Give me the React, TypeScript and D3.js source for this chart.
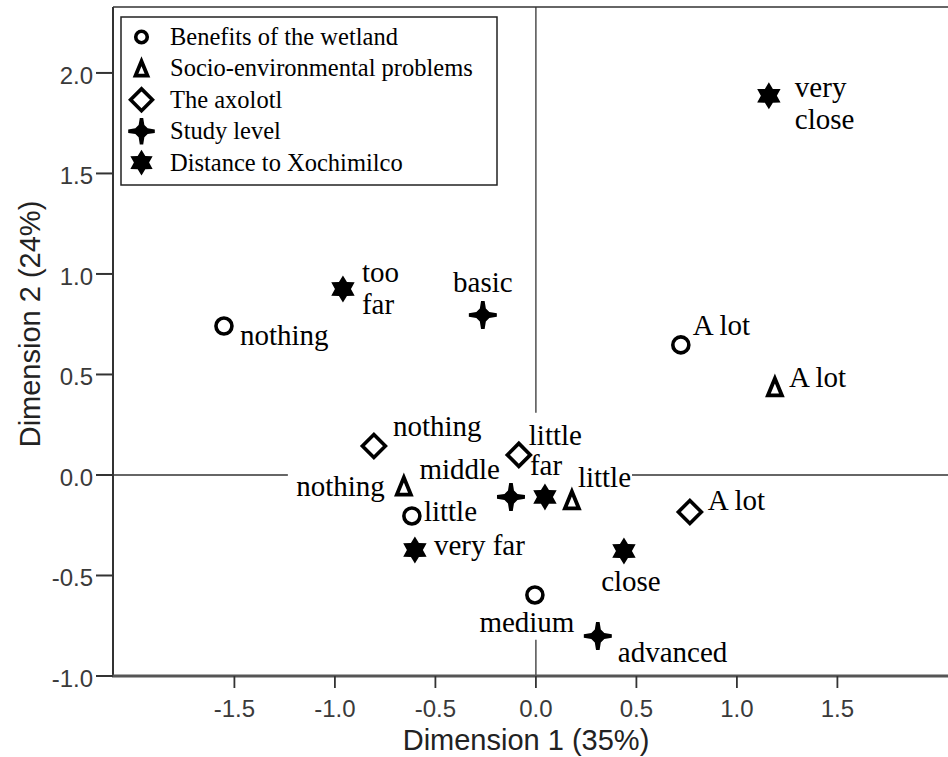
import React from "react";
import * as d3 from "d3";

const W = 948;
const H = 757;

const xTicks = [-1.5, -1.0, -0.5, 0.0, 0.5, 1.0, 1.5];
const yTicks = [-1.0, -0.5, 0.0, 0.5, 1.0, 1.5, 2.0];
const xDomain = [-2.104, 2.2];
const yDomain = [-1.0, 2.328];

const seriesNames = [
  "Benefits of the wetland",
  "Socio-environmental problems",
  "The axolotl",
  "Study level",
  "Distance to Xochimilco",
];

const benefitsLabels = ["nothing", "A lot", "little", "medium"];
const benefitsX = [-1.552, 0.721, -0.617, -0.005];
const benefitsY = [0.741, 0.647, -0.204, -0.597];

const problemsLabels = ["nothing", "little", "A lot"];
const problemsX = [-0.657, 0.179, 1.189];
const problemsY = [-0.055, -0.124, 0.438];

const axolotlLabels = ["nothing", "little", "A lot"];
const axolotlX = [-0.806, -0.085, 0.766];
const axolotlY = [0.144, 0.1, -0.184];

const studyLabels = ["basic", "middle", "advanced"];
const studyX = [-0.264, -0.124, 0.308];
const studyY = [0.796, -0.109, -0.801];

const distanceLabels = ["too far", "very far", "far", "close", "very close"];
const distanceX = [-0.96, -0.602, 0.045, 0.438, 1.159];
const distanceY = [0.925, -0.373, -0.109, -0.378, 1.886];

// reference-line segments (data units), interrupted where labels sit
const hRefSegments = [
  [-2.104, -1.234],
  [0.478, 2.2],
];
const vRefSegments = [
  [2.328, 0.31],
  [-0.82, -1.0],
];

// label placement (pixel offsets from marker)
type Lay = { dx: number; dy: number; anchor: string; lines?: string[] };
const labelLayout: Record<string, Lay> = {
  "0:nothing": { dx: 16, dy: 19, anchor: "start" },
  "0:A lot": { dx: 12, dy: -10, anchor: "start" },
  "0:little": { dx: 12, dy: 5, anchor: "start" },
  "0:medium": { dx: -8, dy: 37, anchor: "middle" },
  "1:nothing": { dx: -19, dy: 10, anchor: "end" },
  "1:little": { dx: 6, dy: -13, anchor: "start" },
  "1:A lot": { dx: 14, dy: 0, anchor: "start" },
  "2:nothing": { dx: 19, dy: -10, anchor: "start" },
  "2:little": { dx: 10, dy: -10, anchor: "start" },
  "2:A lot": { dx: 18, dy: -2, anchor: "start" },
  "3:basic": { dx: 0, dy: -23, anchor: "middle" },
  "3:middle": { dx: -11, dy: -18, anchor: "end" },
  "3:advanced": { dx: 20, dy: 26, anchor: "start" },
  "4:too far": { dx: 19, dy: -7, anchor: "start", lines: ["too", "far"] },
  "4:very far": { dx: 19, dy: 5, anchor: "start" },
  "4:far": { dx: -15, dy: -22, anchor: "start" },
  "4:close": { dx: 7, dy: 40, anchor: "middle" },
  "4:very close": { dx: 26, dy: 1, anchor: "start", lines: ["very", "close"] },
};

const fmt = (v: number) => d3.format(".1f")(v).replace("\u2212", "-");

function starPath(R: number, r: number) {
  const pts: string[] = [];
  for (let i = 0; i < 12; i++) {
    const a = (Math.PI / 6) * i - Math.PI / 2;
    const rad = i % 2 === 0 ? R : r;
    pts.push(`${(Math.cos(a) * rad).toFixed(2)},${(Math.sin(a) * rad).toFixed(2)}`);
  }
  return "M" + pts.join("L") + "Z";
}

function sparklePath(s: number) {
  const a = 14 * s;
  const w = 1.8 * s;
  const b = 3 * s;
  const c = 6.5 * s;
  const pts = [
    [-w, -a], [w, -a], [b, -c], [c, -b], [a, -w], [a, w], [c, b], [b, c],
    [w, a], [-w, a], [-b, c], [-c, b], [-a, w], [-a, -w], [-c, -b], [-b, -c],
  ];
  return "M" + pts.map((p) => p[0].toFixed(2) + "," + p[1].toFixed(2)).join("L") + "Z";
}

function Marker({ kind, scale = 1 }: { kind: number; scale?: number }) {
  const ink = "#000";
  if (kind === 0) {
    return <circle r={8 * scale} fill="#fff" stroke={ink} strokeWidth={3.6} />;
  }
  if (kind === 1) {
    const h = 8.5 * scale;
    const w = 7 * scale;
    return (
      <path
        d={`M0,${-h}L${w},${h}L${-w},${h}Z`}
        fill="#fff"
        stroke={ink}
        strokeWidth={3.8}
        strokeLinejoin="miter"
      />
    );
  }
  if (kind === 2) {
    const s = 11.5 * scale;
    return (
      <path d={`M0,${-s}L${s},0L0,${s}L${-s},0Z`} fill="#fff" stroke={ink} strokeWidth={3.6} />
    );
  }
  if (kind === 3) {
    return (
      <g fill={ink}>
        <path d={sparklePath(scale)} />
        <circle r={5 * scale} />
      </g>
    );
  }
  return <path d={starPath(13.5 * scale, 8 * scale)} fill={ink} />;
}

export default function App() {
  const x = d3.scaleLinear().domain(xDomain).range([113, 113 + 4.304 * 201]);
  const y = d3.scaleLinear().domain(yDomain).range([676, 7]);

  const series = [
    { labels: benefitsLabels, xs: benefitsX, ys: benefitsY },
    { labels: problemsLabels, xs: problemsX, ys: problemsY },
    { labels: axolotlLabels, xs: axolotlX, ys: axolotlY },
    { labels: studyLabels, xs: studyX, ys: studyY },
    { labels: distanceLabels, xs: distanceX, ys: distanceY },
  ];

  const serif = "'Liberation Serif', 'Times New Roman', serif";
  const sans = "'Liberation Sans', Arial, sans-serif";
  const left = x(xDomain[0]);
  const right = x(xDomain[1]);
  const top = y(yDomain[1]);
  const bottom = y(yDomain[0]);

  return (
    <svg
      width={W}
      height={H}
      style={{ position: "absolute", left: 0, top: 0, background: "#fff" }}
    >
      <rect x={0} y={0} width={W} height={H} fill="#fff" />
      {/* reference lines */}
      {hRefSegments.map((s, i) => (
        <line key={"h" + i} x1={x(s[0])} x2={x(s[1])} y1={y(0)} y2={y(0)} stroke="#333" strokeWidth={1.3} />
      ))}
      {vRefSegments.map((s, i) => (
        <line key={"v" + i} x1={x(0)} x2={x(0)} y1={y(s[0])} y2={y(s[1])} stroke="#333" strokeWidth={1.3} />
      ))}
      {/* frame */}
      <line x1={left} x2={right} y1={top} y2={top} stroke="#333" strokeWidth={1.5} />
      <line x1={left} x2={left} y1={top} y2={bottom} stroke="#333" strokeWidth={2} />
      <line x1={left - 1} x2={right} y1={bottom} y2={bottom} stroke="#555" strokeWidth={3} />
      {/* y ticks */}
      {yTicks.map((t) => (
        <g key={"yt" + t}>
          <line x1={left - 17} x2={left} y1={y(t)} y2={y(t)} stroke="#333" strokeWidth={2} />
          <text x={93} y={y(t) + 11} textAnchor="end" fontFamily={sans} fontSize={24} fill="#3a3a3a">
            {fmt(t)}
          </text>
        </g>
      ))}
      {/* x ticks */}
      {xTicks.map((t) => (
        <g key={"xt" + t}>
          <line x1={x(t)} x2={x(t)} y1={bottom} y2={bottom + 12} stroke="#333" strokeWidth={1.8} />
          <text x={x(t)} y={717} textAnchor="middle" fontFamily={sans} fontSize={24} fill="#3a3a3a">
            {fmt(t)}
          </text>
        </g>
      ))}
      <text x={526} y={750} textAnchor="middle" fontFamily={sans} fontSize={29} fill="#222">
        Dimension 1 (35%)
      </text>
      <text
        transform="translate(40,324) rotate(-90)"
        textAnchor="middle"
        fontFamily={sans}
        fontSize={29}
        fill="#222"
      >
        Dimension 2 (24%)
      </text>
      {/* points */}
      {series.map((s, si) =>
        s.labels.map((lab, i) => (
          <g key={si + lab} transform={`translate(${x(s.xs[i])},${y(s.ys[i])})`}>
            <Marker kind={si} />
          </g>
        ))
      )}
      {/* labels */}
      {series.map((s, si) =>
        s.labels.map((lab, i) => {
          const lay = labelLayout[si + ":" + lab];
          const px = x(s.xs[i]) + lay.dx;
          const py = y(s.ys[i]) + lay.dy;
          const lines = lay.lines || [lab];
          return (
            <text
              key={"l" + si + lab}
              x={px}
              y={py}
              textAnchor={lay.anchor}
              fontFamily={serif}
              fontSize={29}
              fill="#000"
            >
              {lines.map((ln, k) => (
                <tspan key={k} x={px} dy={k === 0 ? 0 : 32}>
                  {ln}
                </tspan>
              ))}
            </text>
          );
        })
      )}
      {/* legend */}
      <rect x={121} y={17} width={376} height={168} fill="#fff" stroke="#222" strokeWidth={1.5} />
      {seriesNames.map((n, i) => (
        <g key={"lg" + i}>
          <g transform={`translate(141.5,${37 + i * 31.4})`}>
            <Marker kind={i} scale={i === 0 ? 0.72 : i === 1 ? 0.85 : 0.95} />
          </g>
          <text x={170} y={45 + i * 31.4} fontFamily={serif} fontSize={24.5} fill="#000">
            {n}
          </text>
        </g>
      ))}
    </svg>
  );
}
